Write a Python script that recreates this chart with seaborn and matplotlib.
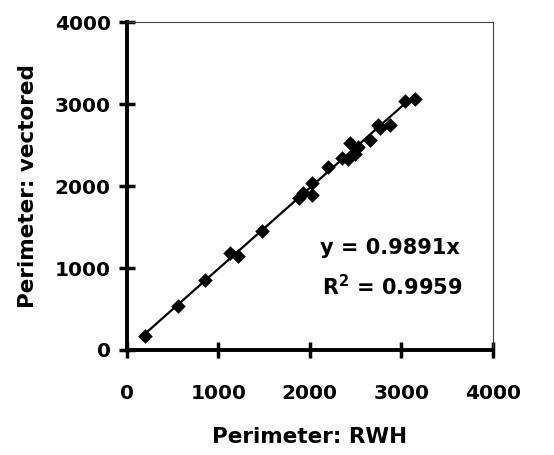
import seaborn as sns
import matplotlib.pyplot as plt
import numpy as np
import pandas as pd

# values
rwh = [200, 565, 856, 1129, 1220, 1475, 1883, 1931, 2022, 2022, 2204,
       2350, 2423, 2440, 2495, 2532, 2659, 2750, 2769, 2878, 3042, 3151]
vectored = [171, 537, 855, 1180, 1148, 1453, 1860, 1913, 2035, 1893, 2239,
            2340, 2328, 2523, 2389, 2483, 2564, 2747, 2706, 2747, 3044, 3061]
slope = 0.9891
r2 = 0.9959
ticks = [0, 1000, 2000, 3000, 4000]

data = pd.DataFrame({'RWH': rwh, 'vectored': vectored})

sns.set_style('ticks')
plt.rcParams['font.family'] = ['DejaVu Sans']
plt.rcParams['font.weight'] = 'bold'
plt.rcParams['text.color'] = 'black'
plt.rcParams['xtick.color'] = 'black'
plt.rcParams['ytick.color'] = 'black'
plt.rcParams['axes.labelcolor'] = 'black'

fig = plt.figure(figsize=(5.54, 4.55), dpi=100)
ax = fig.add_axes([0.2287, 0.2308, 0.6607, 0.7202])

# trend line through origin over data range
xs = np.array([min(rwh), max(rwh)])
ax.plot(xs, slope * xs, color='black', lw=1.6, zorder=2)
sns.scatterplot(data=data, x='RWH', y='vectored', marker='D', s=55,
                color='black', edgecolor='black', linewidth=0, ax=ax, zorder=3)

ax.set_xlim(0, 4000)
ax.set_ylim(0, 4000)
ax.set_xticks(ticks)
ax.set_yticks(ticks)
ax.set_xticklabels([str(t) for t in ticks], fontsize=14.5, fontweight='bold')
ax.set_yticklabels([str(t) for t in ticks], fontsize=14.5, fontweight='bold')
ax.tick_params(axis='x', direction='inout', length=11, width=2.5, pad=19)
ax.tick_params(axis='y', direction='inout', length=11, width=2.5, pad=6)

for side in ['left', 'bottom']:
    ax.spines[side].set_linewidth(2.8)
    ax.spines[side].set_color('black')
for side in ['top', 'right']:
    ax.spines[side].set_visible(True)
    ax.spines[side].set_linewidth(0.8)
    ax.spines[side].set_color('#444444')

ax.set_xlabel('Perimeter: RWH', fontsize=15.5, fontweight='bold', labelpad=17)
ax.set_ylabel('Perimeter: vectored', fontsize=15.5, fontweight='bold', labelpad=12)

ax.text(2110, 1245, f'y = {slope}x', fontsize=15, fontweight='bold', va='center')
ax.text(2130, 770, f'R$^2$ = {r2}', fontsize=15, fontweight='bold', va='center')

fig.savefig('out.png', dpi=100)
